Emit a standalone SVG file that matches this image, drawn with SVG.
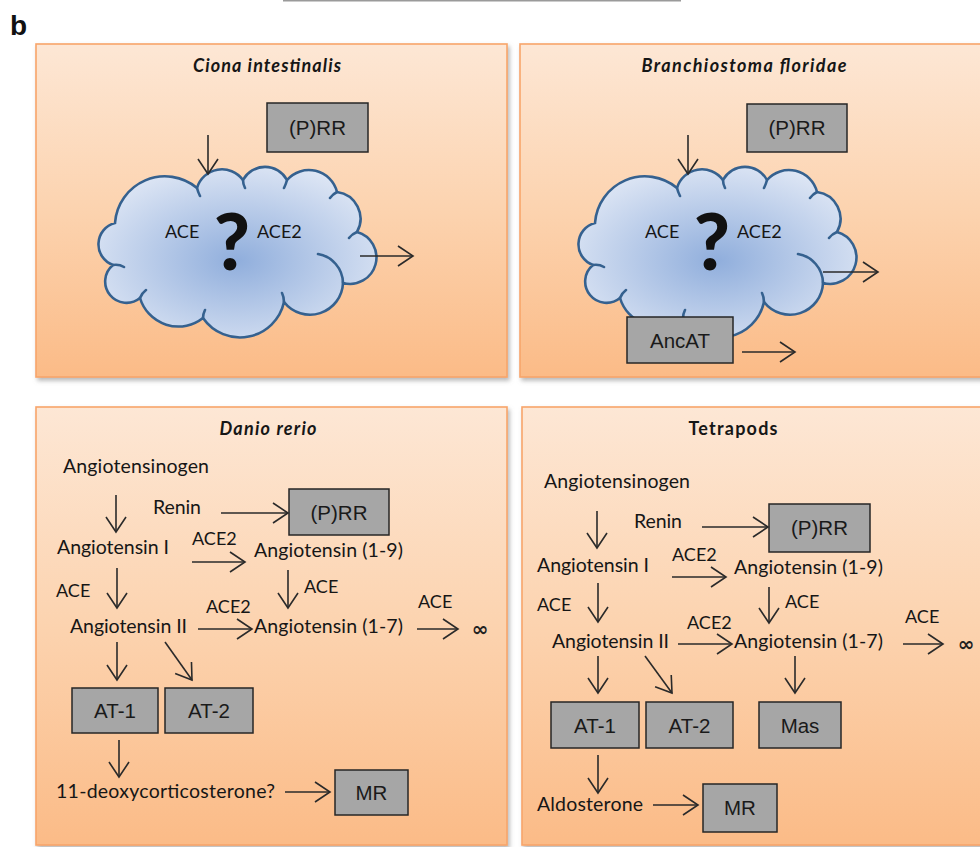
<svg xmlns="http://www.w3.org/2000/svg" width="980" height="847" viewBox="0 0 980 847">
<defs>
<linearGradient id="pg" x1="0" y1="0" x2="0" y2="1">
<stop offset="0" stop-color="#fde7d5"/>
<stop offset="0.5" stop-color="#fcd3af"/>
<stop offset="1" stop-color="#fbbb87"/>
</linearGradient>
<radialGradient id="cg" cx="0.5" cy="0.55" r="0.6">
<stop offset="0" stop-color="#90aedc"/>
<stop offset="1" stop-color="#dfe7f5"/>
</radialGradient>
<filter id="sh" x="-5%" y="-5%" width="115%" height="115%">
<feDropShadow dx="2" dy="3" stdDeviation="2" flood-color="#808080" flood-opacity="0.55"/>
</filter>
<marker id="ah" markerUnits="userSpaceOnUse" markerWidth="20" markerHeight="24" viewBox="0 0 20 24" refX="17" refY="12" orient="auto">
<path d="M2,2 L17,12 L2,22" fill="none" stroke="#2a2a2a" stroke-width="1.6"/>
</marker>
<path id="cloud" d="M197,188 A26,26 0 0 1 243,180 A25,25 0 0 1 287,180 A29,29 0 0 1 337,192 A27,27 0 0 1 357,232 A26,26 0 0 1 343,283 A33,33 0 0 1 284,302 A45,45 0 0 1 203,318 A40,40 0 0 1 140,298 A21,21 0 0 1 113,265 A22,22 0 0 1 115,223 A50,50 0 0 1 197,188 Z"/>
</defs>
<style>
.panel{fill:url(#pg);stroke:#f8a56a;stroke-width:1.6;filter:url(#sh)}
.box{fill:#a6a6a6;stroke:#262626;stroke-width:1.5}
.bt{font-family:"Liberation Sans",Arial,sans-serif;font-size:20.5px;fill:#1a1a1a;text-anchor:middle}
.lbl{font-family:Lato,"Open Sans",sans-serif;font-size:19.5px;fill:#161616}
.sm{font-family:Lato,"Open Sans",sans-serif;font-size:18px;fill:#161616}
.ttl{font-family:Lato,"Open Sans",sans-serif;font-size:18px;font-style:italic;font-weight:bold;fill:#161616;text-anchor:middle}
.ttlb{font-family:Lato,"Open Sans",sans-serif;font-size:18px;font-weight:bold;fill:#161616;text-anchor:middle}
.cl{fill:url(#cg);stroke:#35618f;stroke-width:2.6}
.ci{fill:none;stroke:#35618f;stroke-width:2.6;stroke-linecap:round}
.ar{stroke:#2a2a2a;stroke-width:1.6;fill:none;marker-end:url(#ah)}
.q{font-family:Lato,"Liberation Sans",sans-serif;font-size:78px;font-weight:900;fill:#111;text-anchor:middle}
.inf{font-family:"DejaVu Sans",sans-serif;font-size:20px;font-weight:bold;fill:#222;text-anchor:middle}
</style>
<rect width="980" height="847" fill="#ffffff"/>
<line x1="283" y1="0.5" x2="681" y2="0.5" stroke="#9a9a9a" stroke-width="2"/>
<text x="10" y="35" font-family="Liberation Sans,Arial,sans-serif" font-size="28" font-weight="bold" fill="#111">b</text>

<g id="panel-ciona">
<rect class="panel" x="36" y="44" width="471" height="333"/>
<text class="ttl" x="267" y="72" textLength="148">Ciona intestinalis</text>
</g>
<g id="panel-branchiostoma">
<rect class="panel" x="520" y="44" width="470" height="333"/>
<text class="ttl" x="744" y="72" textLength="205">Branchiostoma floridae</text>
</g>
<g id="panel-danio">
<rect class="panel" x="36" y="407" width="471" height="438"/>
<text class="ttl" x="268" y="435" textLength="97">Danio rerio</text>
</g>
<g id="panel-tetrapods">
<rect class="panel" x="522" y="407" width="470" height="438"/>
<text class="ttlb" x="733" y="435" textLength="89">Tetrapods</text>
</g>

<g id="cloud1">
<use href="#cloud" class="cl"/>
<path class="ci" d="M318,254 A30,30 0 0 1 343,283 M357,232 Q352,234 349,238 M113,265 Q119,264 124,267 M140,298 Q142,293 146,290 M284,302 Q284,297 282,293 M197,188 Q198,192 200,196 M243,180 Q243,184 245,188 M287,180 Q286,184 284,188 M337,192 Q333,194 330,198 M203,318 Q203,314 205,310"/>
<text class="sm" x="165" y="238">ACE</text>
<text class="sm" x="257" y="238">ACE2</text>
<text class="q" x="232" y="270">?</text>
</g>
<g id="cloud2" transform="translate(480,0)">
<use href="#cloud" class="cl"/>
<path class="ci" d="M318,254 A30,30 0 0 1 343,283 M357,232 Q352,234 349,238 M113,265 Q119,264 124,267 M140,298 Q142,293 146,290 M284,302 Q284,297 282,293 M197,188 Q198,192 200,196 M243,180 Q243,184 245,188 M287,180 Q286,184 284,188 M337,192 Q333,194 330,198 M203,318 Q203,314 205,310"/>
<text class="sm" x="165" y="238">ACE</text>
<text class="sm" x="257" y="238">ACE2</text>
<text class="q" x="232" y="270">?</text>
</g>

<g id="prr1"><rect class="box" x="267" y="103" width="101" height="49"/><text class="bt" x="317.5" y="135">(P)RR</text></g>
<g id="prr2"><rect class="box" x="747" y="104" width="100" height="48"/><text class="bt" x="797" y="135">(P)RR</text></g>
<g id="ancat"><rect class="box" x="627" y="317" width="106" height="46"/><text class="bt" x="680" y="348">AncAT</text></g>

<g id="prr3"><rect class="box" x="289" y="489" width="100" height="46"/><text class="bt" x="339" y="520">(P)RR</text></g>
<g id="at1-3"><rect class="box" x="72" y="688" width="86" height="45"/><text class="bt" x="115" y="718">AT-1</text></g>
<g id="at2-3"><rect class="box" x="165" y="688" width="88" height="45"/><text class="bt" x="209" y="718">AT-2</text></g>
<g id="mr3"><rect class="box" x="335" y="770" width="73" height="45"/><text class="bt" x="371.5" y="800">MR</text></g>

<g id="prr4"><rect class="box" x="769" y="504" width="101" height="48"/><text class="bt" x="819.5" y="535">(P)RR</text></g>
<g id="at1-4"><rect class="box" x="551" y="702" width="88" height="46"/><text class="bt" x="595" y="733">AT-1</text></g>
<g id="at2-4"><rect class="box" x="646" y="702" width="87" height="46"/><text class="bt" x="689.5" y="733">AT-2</text></g>
<g id="mas4"><rect class="box" x="759" y="702" width="82" height="46"/><text class="bt" x="800" y="733">Mas</text></g>
<g id="mr4"><rect class="box" x="703" y="784" width="74" height="48"/><text class="bt" x="740" y="815">MR</text></g>

<g id="labels-danio">
<text class="lbl" x="63" y="473" textLength="146">Angiotensinogen</text>
<text class="lbl" x="153" y="514" textLength="48">Renin</text>
<text class="lbl" x="57" y="554" textLength="112">Angiotensin I</text>
<text class="sm" x="192" y="545">ACE2</text>
<text class="lbl" x="254" y="557" textLength="149">Angiotensin (1-9)</text>
<text class="sm" x="56" y="597">ACE</text>
<text class="sm" x="304" y="593">ACE</text>
<text class="sm" x="206" y="613">ACE2</text>
<text class="sm" x="418" y="608">ACE</text>
<text class="lbl" x="70" y="633" textLength="117">Angiotensin II</text>
<text class="lbl" x="254" y="633" textLength="149">Angiotensin (1-7)</text>
<text class="inf" x="480" y="636">∞</text>
<text class="lbl" x="56" y="798" textLength="219">11-deoxycorticosterone?</text>
</g>
<g id="labels-tetrapods">
<text class="lbl" x="544" y="488" textLength="146">Angiotensinogen</text>
<text class="lbl" x="634" y="528" textLength="48">Renin</text>
<text class="lbl" x="537" y="572" textLength="112">Angiotensin I</text>
<text class="sm" x="672" y="561">ACE2</text>
<text class="lbl" x="734" y="574" textLength="149">Angiotensin (1-9)</text>
<text class="sm" x="537" y="611">ACE</text>
<text class="sm" x="785" y="608">ACE</text>
<text class="sm" x="687" y="629">ACE2</text>
<text class="sm" x="905" y="623">ACE</text>
<text class="lbl" x="552" y="648" textLength="117">Angiotensin II</text>
<text class="lbl" x="734" y="648" textLength="149">Angiotensin (1-7)</text>
<text class="inf" x="966" y="651">∞</text>
<text class="lbl" x="537" y="811" textLength="106">Aldosterone</text>
</g>

<g id="connectors">
<line class="ar" x1="208" y1="135" x2="208" y2="174"/>
<line class="ar" x1="360" y1="256" x2="413" y2="256"/>
<line class="ar" x1="688" y1="135" x2="688" y2="174"/>
<line class="ar" x1="823" y1="272" x2="878" y2="272"/>
<line class="ar" x1="742" y1="352" x2="795" y2="352"/>

<line class="ar" x1="116" y1="495" x2="116" y2="532"/>
<line class="ar" x1="221" y1="513" x2="288" y2="513"/>
<line class="ar" x1="192" y1="562" x2="245" y2="562"/>
<line class="ar" x1="117" y1="568" x2="117" y2="608"/>
<line class="ar" x1="288" y1="570" x2="288" y2="608"/>
<line class="ar" x1="198" y1="629" x2="252" y2="629"/>
<line class="ar" x1="417" y1="629" x2="458" y2="629"/>
<line class="ar" x1="117" y1="642" x2="117" y2="680"/>
<line class="ar" x1="165" y1="642" x2="192" y2="680"/>
<line class="ar" x1="119" y1="740" x2="119" y2="777"/>
<line class="ar" x1="285" y1="792" x2="330" y2="792"/>

<line class="ar" x1="597" y1="511" x2="597" y2="548"/>
<line class="ar" x1="702" y1="527" x2="768" y2="527"/>
<line class="ar" x1="672" y1="577" x2="726" y2="577"/>
<line class="ar" x1="598" y1="583" x2="598" y2="622"/>
<line class="ar" x1="769" y1="587" x2="769" y2="623"/>
<line class="ar" x1="678" y1="644" x2="732" y2="644"/>
<line class="ar" x1="903" y1="644" x2="943" y2="644"/>
<line class="ar" x1="598" y1="656" x2="598" y2="693"/>
<line class="ar" x1="645" y1="656" x2="672" y2="693"/>
<line class="ar" x1="795" y1="656" x2="795" y2="693"/>
<line class="ar" x1="598" y1="755" x2="598" y2="793"/>
<line class="ar" x1="653" y1="805" x2="698" y2="805"/>
</g>
</svg>
